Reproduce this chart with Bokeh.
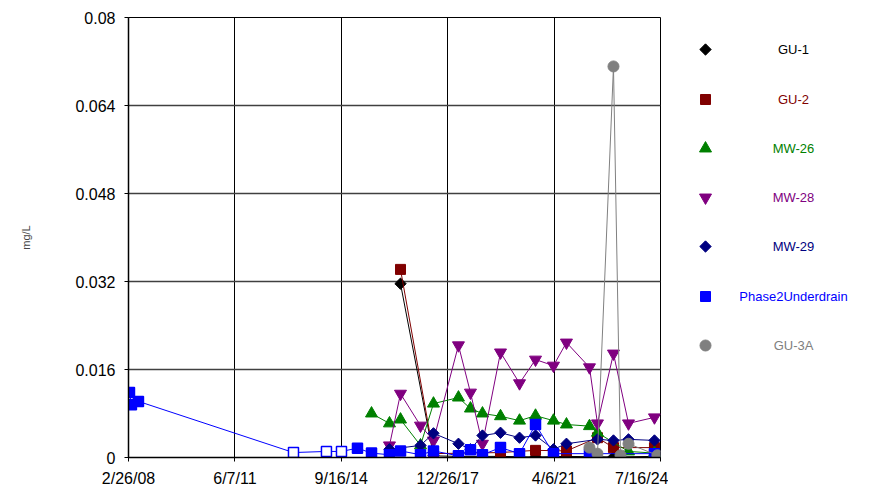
import math
import pandas as pd
from bokeh.plotting import figure
from bokeh.models import FixedTicker, Range1d
from bokeh.layouts import row
from bokeh.embed import file_html
from bokeh.resources import INLINE
from bokeh.core.properties import value

# ---------------- data ----------------
x_ticks = ["2008-02-26", "2011-06-07", "2014-09-16", "2017-12-26", "2021-04-06", "2024-07-16"]
x_tick_labels = ["2/26/08", "6/7/11", "9/16/14", "12/26/17", "4/6/21", "7/16/24"]
y_ticks = [0, 0.016, 0.032, 0.048, 0.064, 0.08]
y_tick_labels = ["0", "0.016", "0.032", "0.048", "0.064", "0.08"]

gu1_dates = ["2016-07-13", "2017-07-19", "2018-04-26", "2019-08-12", "2020-09-09",
             "2021-08-23", "2023-02-03", "2024-05-09"]
gu1_vals = [0.0316, 0.0003, 0.0002, 0.0002, 0.0001, 0.0002, 0.0001, 0.0002]

gu2_dates = ["2016-07-13", "2017-07-19", "2019-08-12", "2020-09-09", "2021-08-23",
             "2022-08-07", "2023-02-03", "2024-05-09"]
gu2_vals = [0.0342, 0.0007, 0.0009, 0.0013, 0.0012, 0.0036, 0.0018, 0.0018]

mw26_dates = ["2015-08-22", "2016-03-11", "2016-07-13", "2017-02-23", "2017-07-19",
              "2018-04-26", "2018-09-08", "2019-01-21", "2019-08-12", "2020-03-13",
              "2020-09-09", "2021-03-30", "2021-08-23", "2022-05-09", "2022-08-07",
              "2023-07-22", "2024-05-09"]
mw26_vals = [0.0080, 0.0062, 0.0069, 0.0022, 0.0098,
             0.0109, 0.0089, 0.0080, 0.0075, 0.0067,
             0.0076, 0.0067, 0.0060, 0.0057, 0.0045,
             0.0011, 0.0008]

mw28_dates = ["2016-03-11", "2016-07-13", "2017-02-23", "2017-07-19", "2018-04-26",
              "2018-09-08", "2019-01-21", "2019-08-12", "2020-03-13", "2020-09-09",
              "2021-03-30", "2021-08-23", "2022-05-09", "2022-08-07", "2023-02-03",
              "2023-07-22", "2024-05-09"]
mw28_vals = [0.0022, 0.0116, 0.0058, 0.0031, 0.0204,
             0.0118, 0.0025, 0.0191, 0.0135, 0.0178,
             0.0167, 0.0209, 0.0164, 0.0062, 0.0189,
             0.0062, 0.0073]

mw29_dates = ["2016-03-11", "2017-02-23", "2017-07-19", "2018-04-26", "2018-09-08",
              "2019-01-21", "2019-08-12", "2020-03-13", "2020-09-09", "2021-03-30",
              "2021-08-23", "2022-08-07", "2023-02-03", "2023-07-22", "2024-05-09"]
mw29_vals = [0.0015, 0.0022, 0.0044, 0.0025, 0.0015,
             0.0040, 0.0045, 0.0036, 0.0040, 0.0015,
             0.0025, 0.0033, 0.0031, 0.0033, 0.0031]

p2_dates = ["2008-03-08", "2008-03-30", "2008-06-17", "2013-03-27", "2014-04-02",
            "2014-09-18", "2015-03-17", "2015-08-22", "2016-03-11", "2016-07-13",
            "2017-02-23", "2017-07-19", "2018-04-26", "2018-09-08", "2019-01-21",
            "2019-08-12", "2020-03-13", "2020-09-09", "2021-03-30", "2022-05-09",
            "2024-05-09"]
p2_vals = [0.0118, 0.0096, 0.0102, 0.0009, 0.0011,
           0.0011, 0.0017, 0.0008, 0.0005, 0.0012,
           0.0005, 0.0012, 0.0003, 0.0014, 0.0005,
           0.0018, 0.0007, 0.0060, 0.0007, 0.0007,
           0.0007]
p2_nondetect = [False, False, False, True, True,
                True, False, False, False, False,
                False, False, False, False, False,
                False, False, False, False, False,
                False]

gu3a_dates = ["2022-05-09", "2022-08-07", "2023-02-03", "2023-04-23", "2023-07-22", "2024-06-11"]
gu3a_vals = [0.0018, 0.0007, 0.0711, 0.0004, 0.0025, 0.0004]

series_names = ["GU-1", "GU-2", "MW-26", "MW-28", "MW-29", "Phase2Underdrain", "GU-3A"]
series_colors = ["#000000", "#800000", "#008000", "#800080", "#000080", "#0000FF", "#808080"]

# ---------------- styling ----------------
FONT = "Liberation Sans"
markers = {
    "GU-1": dict(marker="square", size=8, angle=math.pi / 4),
    "GU-2": dict(marker="square", size=10, angle=0),
    "MW-26": dict(marker="triangle", size=12, angle=0),
    "MW-28": dict(marker="inverted_triangle", size=12, angle=0),
    "MW-29": dict(marker="square", size=8, angle=math.pi / 4),
    "Phase2Underdrain": dict(marker="square", size=10, angle=0),
    "GU-3A": dict(marker="circle", size=11, angle=0),
}

W_MAIN, W_LEG, H = 668, 205, 489
B_LEFT, B_TOP, B_RIGHT = 128, 17, 8
FRAME_H = 440
B_BOTTOM = H - B_TOP - FRAME_H


def ts(lst):
    return pd.to_datetime(pd.Series(lst))


x0 = pd.Timestamp(x_ticks[0])
x1 = pd.Timestamp(x_ticks[-1])

p = figure(width=W_MAIN, height=H, x_axis_type="datetime",
           x_range=Range1d(x0, x1), y_range=Range1d(0, 0.08),
           toolbar_location=None, output_backend="svg",
           min_border_left=B_LEFT, min_border_right=B_RIGHT,
           min_border_top=B_TOP, min_border_bottom=B_BOTTOM)
p.outline_line_color = "black"
p.outline_line_width = 1

tick_ms = [int(pd.Timestamp(t).value // 10**6) for t in x_ticks]
p.xaxis.ticker = FixedTicker(ticks=tick_ms)
p.xaxis.major_label_overrides = {tm: lab for tm, lab in zip(tick_ms, x_tick_labels)}
p.yaxis.ticker = FixedTicker(ticks=y_ticks)
p.yaxis.major_label_overrides = {t: lab for t, lab in zip(y_ticks, y_tick_labels)}

for ax in (p.xaxis, p.yaxis):
    ax.major_label_text_font = FONT
    ax.major_label_text_font_size = "16px"
    ax.major_label_text_color = "black"
    ax.axis_line_color = "black"
    ax.axis_line_width = 1.5
    ax.major_tick_line_color = "black"
    ax.major_tick_out = 4
    ax.major_tick_in = 0
    ax.minor_tick_line_color = None
p.xaxis.major_label_standoff = 8
p.yaxis.major_label_standoff = 9

p.yaxis.axis_label = "mg/L"
p.yaxis.axis_label_text_font = FONT
p.yaxis.axis_label_text_font_size = "11px"
p.yaxis.axis_label_text_font_style = "normal"
p.yaxis.axis_label_standoff = 40

p.xgrid.ticker = FixedTicker(ticks=tick_ms)
p.ygrid.ticker = FixedTicker(ticks=y_ticks)
p.xgrid.grid_line_color = "black"
p.xgrid.grid_line_width = 1
p.ygrid.grid_line_color = "#404040"
p.ygrid.grid_line_width = 1.5

data = [
    (gu1_dates, gu1_vals),
    (gu2_dates, gu2_vals),
    (mw26_dates, mw26_vals),
    (mw28_dates, mw28_vals),
    (mw29_dates, mw29_vals),
    (p2_dates, p2_vals),
    (gu3a_dates, gu3a_vals),
]

for name, color, (d, v) in zip(series_names, series_colors, data):
    xs = ts(d)
    m = markers[name]
    p.line(xs, v, line_color=color, line_width=1)
    if name == "Phase2Underdrain":
        fills = ["white" if nd else color for nd in p2_nondetect]
        p.scatter(xs, v, marker=m["marker"], size=m["size"], angle=m["angle"],
                  fill_color=fills, line_color=color, line_width=1.5)
    else:
        p.scatter(xs, v, marker=m["marker"], size=m["size"], angle=m["angle"],
                  fill_color=color, line_color=color, line_width=1)

# ---------------- legend panel (page-pixel coordinates) ----------------
leg = figure(width=W_LEG, height=H,
             x_range=Range1d(W_MAIN, W_MAIN + W_LEG),
             y_range=Range1d(B_TOP + FRAME_H, B_TOP),
             toolbar_location=None, output_backend="svg",
             min_border_left=0, min_border_right=0,
             min_border_top=B_TOP, min_border_bottom=B_BOTTOM)
leg.axis.visible = False
leg.grid.visible = False
leg.outline_line_color = None

legend_marker_x = 705
legend_label_x = 793
legend_rows_y = [49, 99, 148, 197, 246, 296, 345]
for name, color, yy in zip(series_names, series_colors, legend_rows_y):
    m = markers[name]
    leg.scatter([legend_marker_x], [yy], marker=m["marker"], size=m["size"], angle=m["angle"],
                fill_color=color, line_color=color)
    leg.text([legend_label_x], [yy], text=[name], text_align="center", text_baseline="middle",
             text_color=color, text_font=value(FONT), text_font_size="13px")

layout = row(p, leg)
open("out.html", "w").write(file_html(layout, INLINE))
